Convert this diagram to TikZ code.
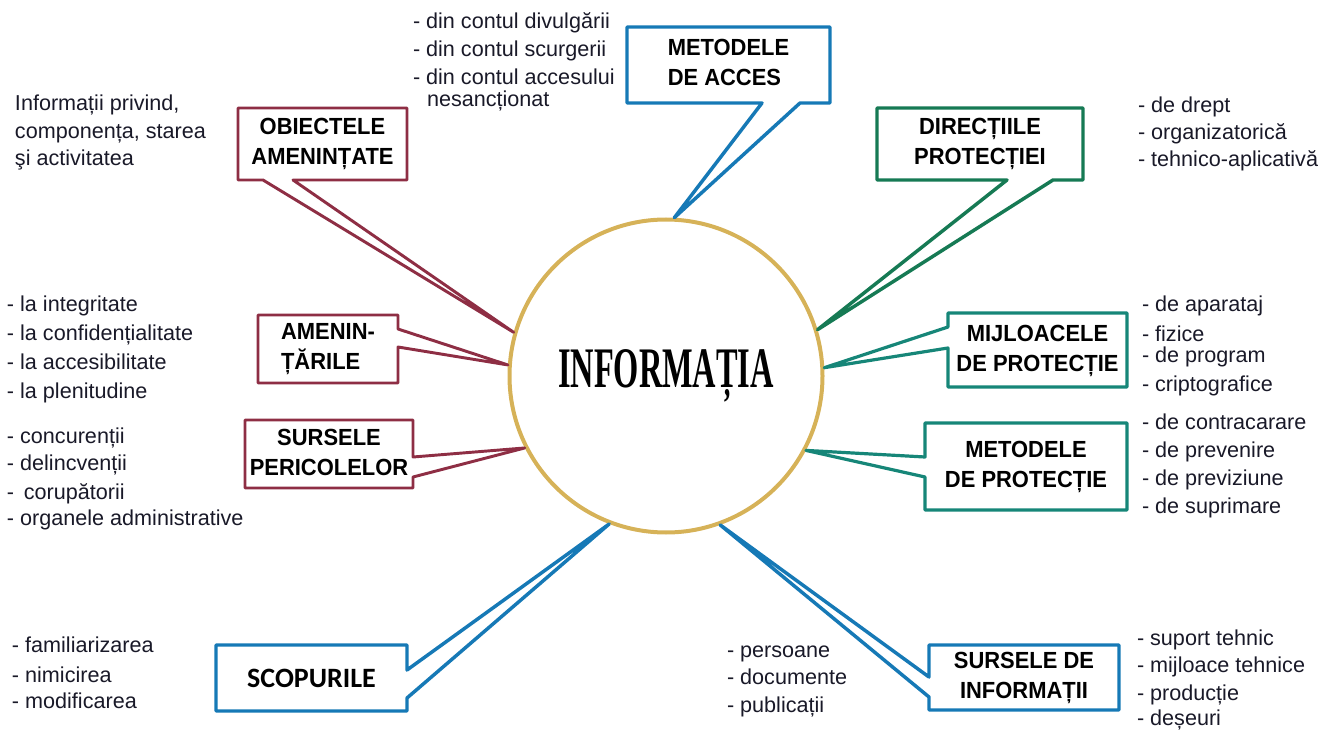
\documentclass[tikz,border=0pt]{standalone}
\usepackage{fontspec}
\usepackage{graphicx}
\setmainfont{Liberation Sans}
\newfontfamily\infofont{Liberation Serif}
\newfontfamily\carlfont{Carlito}
\usetikzlibrary{calc}
\definecolor{maroonc}{RGB}{142,46,68}
\definecolor{bluec}{RGB}{22,121,182}
\definecolor{greenc}{RGB}{22,122,84}
\definecolor{tealc}{RGB}{22,134,120}
\definecolor{goldc}{RGB}{214,178,88}
\definecolor{txtc}{RGB}{25,25,40}
\newcommand\boxtext[2][c]{\scalebox{0.94}[1]{\begin{tabular}{@{}#1@{}}#2\end{tabular}}}
\tikzset{
  item/.style={anchor=base west, inner sep=0pt, outer sep=0pt, text=txtc,
    font=\fontsize{16.2}{18}\selectfont},
  lbl/.style 2 args={inner sep=0pt, outer sep=0pt, text=black,
    minimum width={#1*0.75pt}, minimum height={#2*0.75pt},
    font=\bfseries\fontsize{17.5}{22.5}\selectfont},
  cmaroon/.style={draw=maroonc, line width=2.2pt, line join=round},
  cblue/.style={draw=bluec, line width=2.6pt, line join=round},
  cgreen/.style={draw=greenc, line width=2.6pt, line join=round},
  cteal/.style={draw=tealc, line width=2.4pt, line join=round},
}
\begin{document}
\begin{tikzpicture}[x=0.75pt,y=-0.75pt]
\useasboundingbox (0,0) rectangle (1322,731);

% central circle
\node[draw=goldc, line width=3pt, circle, minimum size={313*0.75pt}, inner sep=0pt]
  (info) at (666,376) {\raisebox{3pt}{\scalebox{0.565}[1]{\infofont\bfseries\fontsize{43}{43}\selectfont INFORMAȚIA}}};

% boxes
\node[lbl={203}{76}] (ma) at (728.5,65) {\boxtext[l]{METODELE\\DE ACCES}};
\node[lbl={169}{72}] (oa) at (322.5,144) {\boxtext{OBIECTELE\\AMENINȚATE}};
\node[lbl={206}{72}] (dp) at (980,144) {\boxtext{DIRECȚIILE\\PROTECȚIEI}};
\node[lbl={140}{68}] (am) at (328,349) {\boxtext[l]{AMENIN-\\ȚĂRILE}};
\node[lbl={168}{68}] (sp) at (329,454) {\boxtext{SURSELE\\PERICOLELOR}};
\node[lbl={179}{74}] (mp) at (1037.5,350) {\boxtext{MIJLOACELE\\DE PROTECȚIE}};
\node[lbl={202}{87}] (mt) at (1026,466.5) {\boxtext{METODELE\\DE PROTECȚIE}};
\node[lbl={191}{66}, font=\carlfont\bfseries\fontsize{21}{24}\selectfont] (sc) at (311.5,678) {SCOPURILE};
\node[lbl={190}{65}] (si) at (1024,677.5) {\boxtext{SURSELE DE\\INFORMAȚII}};

% callout outlines
\draw[cblue] (ma.north west) -- (ma.north east) -- (ma.south east)
  -- ($(ma.south east)+(-30,0)$) -- (info.87.5) -- ($(ma.south west)+(135,0)$)
  -- (ma.south west) -- cycle;
\draw[cmaroon] (oa.north west) -- (oa.north east) -- (oa.south east)
  -- ($(oa.south west)+(55,0)$) -- (info.164.6) -- ($(oa.south west)+(25,0)$)
  -- (oa.south west) -- cycle;
\draw[cgreen] (dp.north west) -- (dp.north east) -- (dp.south east)
  -- ($(dp.south west)+(176,0)$) -- (info.17.9) -- ($(dp.south west)+(130,0)$)
  -- (dp.south west) -- cycle;
\draw[cmaroon] (am.north west) -- (am.north east) -- ($(am.north east)+(0,14)$)
  -- (info.176) -- ($(am.north east)+(0,32)$) -- (am.south east)
  -- (am.south west) -- cycle;
\draw[cmaroon] (sp.north west) -- (sp.north east) -- ($(sp.north east)+(0,37)$)
  -- (info.207.5) -- ($(sp.north east)+(0,57)$) -- (sp.south east)
  -- (sp.south west) -- cycle;
\draw[cteal] (mp.north west) -- (mp.north east) -- (mp.south east) -- (mp.south west)
  -- ($(mp.north west)+(0,35)$) -- (info.3.2) -- ($(mp.north west)+(0,14)$) -- cycle;
\draw[cteal] (mt.north west) -- (mt.north east) -- (mt.south east) -- (mt.south west)
  -- ($(mt.north west)+(0,54)$) -- (info.332) -- ($(mt.north west)+(0,34)$) -- cycle;
\draw[cblue] (sc.north west) -- (sc.north east) -- ($(sc.north east)+(0,25)$)
  -- (info.249.8) -- ($(sc.north east)+(0,53)$) -- (sc.south east)
  -- (sc.south west) -- cycle;
\draw[cblue] (si.north west) -- (si.north east) -- (si.south east) -- (si.south west)
  -- ($(si.north west)+(0,52)$) -- (info.290.6) -- ($(si.north west)+(0,32)$) -- cycle;

% lists
\node[item] (a1) at (413,29) {- din contul divulgării};
\node[item] (a2) at (413,57) {- din contul scurgerii};
\node[item] (a3) at (413,85) {- din contul accesului};
\node[item] (a4) at (427,107) {nesancționat};

\node[item] (b1) at (15,111) {Informații privind,};
\node[item] (b2) at (15,139) {componența, starea};
\node[item] (b3) at (15,166) {şi activitatea};

\node[item] (c1) at (1138,113) {- de drept};
\node[item] (c2) at (1138,140) {- organizatorică};
\node[item] (c3) at (1138,167) {- tehnico-aplicativă};

\node[item] (d1) at (7,311) {- la integritate};
\node[item] (d2) at (7,340) {- la confidențialitate};
\node[item] (d3) at (7,369) {- la accesibilitate};
\node[item] (d4) at (7,398) {- la plenitudine};

\node[item] (e1) at (7,443) {- concurenții};
\node[item] (e2) at (7,470) {- delincvenții};
\node[item] (e3) at (7,499) {-\,\ corupătorii};
\node[item] (e4) at (7,525) {- organele administrative};

\node[item] (f1) at (1142,311) {- de aparataj};
\node[item] (f2) at (1142,341) {- fizice};
\node[item] (f3) at (1142,363) {- de program};
\node[item] (f4) at (1142,391) {- criptografice};

\node[item] (g1) at (1142,429) {- de contracarare};
\node[item] (g2) at (1142,457) {- de prevenire};
\node[item] (g3) at (1142,485) {- de previziune};
\node[item] (g4) at (1142,513) {- de suprimare};

\node[item] (h1) at (12,652) {- familiarizarea};
\node[item] (h2) at (12,682) {- nimicirea};
\node[item] (h3) at (12,708) {- modificarea};

\node[item] (i1) at (727,657) {- persoane};
\node[item] (i2) at (727,684) {- documente};
\node[item] (i3) at (727,712) {- publicații};

\node[item] (j1) at (1137,645) {- suport tehnic};
\node[item] (j2) at (1137,672) {- mijloace tehnice};
\node[item] (j3) at (1137,700) {- producție};
\node[item] (j4) at (1137,725) {- deșeuri};
\end{tikzpicture}
\end{document}
